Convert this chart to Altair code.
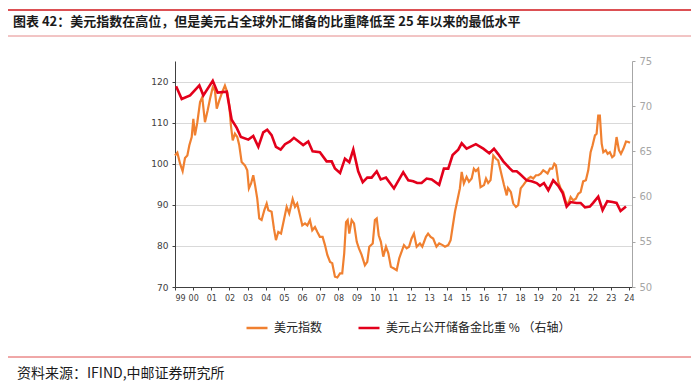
import altair as alt
import pandas as pd

# ---------------- data ----------------
dxy_t = [1999.00, 1999.13, 1999.28, 1999.42, 1999.55, 1999.68, 1999.79, 1999.92, 2000.01, 2000.10,
         2000.23, 2000.38, 2000.50, 2000.65, 2000.80, 2000.93, 2001.08, 2001.20, 2001.30, 2001.44,
         2001.60, 2001.75, 2001.88, 2001.99, 2002.08, 2002.18, 2002.30, 2002.43, 2002.54, 2002.67,
         2002.85, 2002.98, 2003.07, 2003.19, 2003.31, 2003.41, 2003.53, 2003.64, 2003.77, 2003.92,
         2004.05, 2004.14, 2004.32, 2004.45, 2004.56, 2004.69, 2004.84, 2004.96, 2005.15, 2005.29,
         2005.48, 2005.61, 2005.73, 2005.88, 2006.01, 2006.16, 2006.29, 2006.43, 2006.56, 2006.71,
         2006.84, 2006.98, 2007.13, 2007.26, 2007.39, 2007.54, 2007.66, 2007.81, 2007.94, 2008.09,
         2008.21, 2008.32, 2008.42, 2008.51, 2008.60, 2008.73, 2008.86, 2009.01, 2009.13, 2009.28,
         2009.46, 2009.59, 2009.70, 2009.89, 2010.01, 2010.11, 2010.22, 2010.34, 2010.47, 2010.62,
         2010.75, 2010.89, 2011.06, 2011.21, 2011.35, 2011.61, 2011.76, 2011.89, 2012.03, 2012.16,
         2012.31, 2012.49, 2012.62, 2012.82, 2012.94, 2013.08, 2013.22, 2013.40, 2013.55, 2013.74,
         2013.87, 2014.05, 2014.18, 2014.29, 2014.42, 2014.57, 2014.69, 2014.79, 2014.91, 2015.06,
         2015.19, 2015.34, 2015.46, 2015.57, 2015.70, 2015.83, 2016.02, 2016.13, 2016.25, 2016.38,
         2016.53, 2016.68, 2016.80, 2016.95, 2017.12, 2017.27, 2017.34, 2017.50, 2017.63, 2017.78,
         2017.90, 2018.04, 2018.18, 2018.33, 2018.45, 2018.59, 2018.73, 2018.88, 2019.01, 2019.14,
         2019.28, 2019.41, 2019.52, 2019.65, 2019.78, 2019.89, 2019.98, 2020.11, 2020.24, 2020.38,
         2020.53, 2020.66, 2020.79, 2020.93, 2021.08, 2021.21, 2021.34, 2021.48, 2021.63, 2021.76,
         2021.89, 2022.00, 2022.13, 2022.22, 2022.31, 2022.40, 2022.50, 2022.59, 2022.72, 2022.83,
         2022.95, 2023.08, 2023.19, 2023.32, 2023.45, 2023.56, 2023.70, 2023.84, 2023.97, 2024.06]
dxy_v = [102.0, 102.7, 100.0, 98.2, 101.4, 102.0, 104.5, 106.5, 110.9, 106.9,
         110.1, 115.0, 116.2, 110.1, 113.0, 115.8, 118.6, 117.8, 113.4, 115.4,
         117.4, 119.0, 117.4, 114.2, 109.3, 105.7, 107.3, 106.5, 104.5, 100.4,
         99.6, 98.4, 94.0, 95.2, 97.2, 94.8, 91.5, 86.7, 86.3, 88.7,
         90.3, 88.7, 88.3, 84.2, 81.4, 83.4, 83.0, 85.5, 89.5, 87.9,
         91.4, 89.5, 90.3, 87.5, 85.0, 85.5, 85.0, 86.3, 83.8, 84.6,
         83.4, 82.2, 82.2, 80.2, 77.8, 76.1, 75.8, 72.5, 72.3, 73.3,
         73.3, 78.2, 85.8, 86.3, 83.0, 86.3, 85.5, 81.0, 79.4, 77.8,
         75.3, 76.1, 79.8, 80.6, 86.3, 86.7, 82.6, 81.0, 77.4, 79.8,
         78.2, 74.9, 74.5, 74.1, 77.0, 80.2, 79.4, 79.8, 81.8, 83.0,
         79.8, 80.6, 79.8, 82.2, 83.0, 82.2, 81.8, 79.8, 80.6, 80.2,
         79.8, 80.2, 81.4, 84.6, 88.3, 91.5, 94.0, 98.0, 95.2, 96.8,
         95.6, 96.4, 98.8, 98.2, 98.8, 94.3, 94.8, 96.4, 95.3, 96.0,
         102.0, 101.2, 100.8, 98.0, 94.8, 92.3, 94.1, 93.1, 90.3, 89.5,
         89.9, 94.0, 94.8, 95.7, 96.4, 96.8, 96.4, 97.2, 97.2, 97.6,
         98.4, 98.0, 97.6, 98.8, 98.8, 100.0, 99.6, 95.6, 94.0, 93.1,
         90.7, 90.3, 91.9, 91.1, 91.5, 92.7, 93.1, 95.7, 96.0, 98.4,
         102.8, 104.5, 106.9, 107.3, 111.7, 111.7, 104.9, 102.8, 103.3, 102.4,
         102.8, 101.6, 102.0, 106.5, 103.3, 102.4, 103.7, 105.4, 105.3, 105.1]

usd_t = [1999.06, 1999.37, 1999.83, 2000.34, 2000.56, 2001.08, 2001.35, 2001.85, 2002.12, 2002.40,
         2002.63, 2003.04, 2003.31, 2003.59, 2003.86, 2004.08, 2004.32, 2004.56, 2004.82, 2005.06,
         2005.33, 2005.55, 2006.06, 2006.34, 2006.58, 2006.98, 2007.35, 2007.63, 2007.81, 2008.09,
         2008.36, 2008.60, 2008.82, 2009.09, 2009.34, 2009.59, 2009.83, 2010.11, 2010.33, 2010.62,
         2010.84, 2011.06, 2011.57, 2011.85, 2012.12, 2012.34, 2012.58, 2012.86, 2013.14, 2013.55,
         2013.81, 2014.05, 2014.29, 2014.60, 2014.79, 2015.06, 2015.57, 2015.98, 2016.31, 2016.57,
         2016.80, 2017.08, 2017.45, 2017.60, 2017.82, 2018.00, 2018.37, 2018.64, 2018.92, 2019.10,
         2019.32, 2019.56, 2019.83, 2020.11, 2020.35, 2020.57, 2020.79, 2021.12, 2021.34, 2021.58,
         2021.85, 2022.03, 2022.31, 2022.55, 2022.81, 2023.10, 2023.32, 2023.54, 2023.84]
usd_v = [72.2, 70.8, 71.2, 72.3, 71.2, 72.8, 71.5, 71.6, 68.5, 67.6,
         66.6, 66.3, 66.7, 65.5, 67.1, 67.4, 66.8, 65.5, 65.2, 65.8,
         66.1, 66.5, 65.7, 66.1, 65.0, 64.9, 63.9, 63.9, 63.1, 62.6,
         64.2, 63.8, 65.2, 62.8, 61.6, 62.1, 62.1, 62.8, 61.9, 62.1,
         61.5, 60.9, 62.7, 61.8, 61.7, 61.5, 61.5, 62.0, 61.9, 61.3,
         63.1, 63.1, 64.6, 65.2, 65.9, 65.3, 65.8, 65.3, 64.8, 65.3,
         64.7, 63.9, 63.1, 62.8, 62.8, 62.5, 61.8, 61.7, 61.5, 61.2,
         61.5, 60.7, 61.8, 61.2, 60.4, 58.9, 59.4, 59.3, 59.3, 58.8,
         58.9, 59.3, 60.0, 58.5, 59.5, 59.4, 59.3, 58.4, 58.9]

series_names = ["美元指数", "美元占公开储备金比重 %  （右轴）"]
series_colors = ["#F08030", "#E3001B"]
year_ticks = list(range(1999, 2025))
left_ticks = [70, 80, 90, 100, 110, 120]
right_ticks = [50, 55, 60, 65, 70, 75]

title_text = "图表 42：美元指数在高位，但是美元占全球外汇储备的比重降低至 25 年以来的最低水平"
source_text = "资料来源：IFIND,中邮证券研究所"

df_dxy = pd.DataFrame({"t": dxy_t, "v": dxy_v, "series": series_names[0]})
df_usd = pd.DataFrame({"t": usd_t, "v": usd_v, "series": series_names[1]})

# ---------------- chart ----------------
x_enc = alt.X("t:Q",
              scale=alt.Scale(domain=[1999, 2024.17], nice=False, zero=False),
              axis=alt.Axis(values=year_ticks, labelExpr="substring(toString(datum.value), 2)",
                            title=None, grid=False, domainColor="#404040", tickColor="#404040",
                            tickSize=3, labelFontSize=8, labelColor="#404040", labelPadding=4,
                            labelFont="DejaVu Sans"))

color_enc = alt.Color("series:N",
                      scale=alt.Scale(domain=series_names, range=series_colors),
                      legend=alt.Legend(title=None, orient="none", legendX=70, legendY=255,
                                        direction="horizontal", symbolType="stroke",
                                        symbolSize=441, symbolStrokeWidth=2.5,
                                        labelFontSize=12, labelFont="Noto Sans CJK SC",
                                        labelColor="#222222", labelLimit=400,
                                        columnPadding=30, labelOffset=5))

dxy_line = alt.Chart(df_dxy).mark_line(strokeWidth=2.2, interpolate="linear").encode(
    x=x_enc,
    y=alt.Y("v:Q", scale=alt.Scale(domain=[70, 125], nice=False, zero=False),
            axis=alt.Axis(values=left_ticks, title=None, grid=True, gridColor="#d9d9d9",
                          domainColor="#404040", tickColor="#404040", tickSize=3,
                          labelFontSize=9, labelColor="#404040", labelPadding=4,
                          labelFont="DejaVu Sans")),
    color=color_enc,
)

usd_line = alt.Chart(df_usd).mark_line(strokeWidth=2.6, interpolate="linear").encode(
    x=x_enc,
    y=alt.Y("v:Q", scale=alt.Scale(domain=[50, 75], nice=False, zero=False),
            axis=alt.Axis(values=right_ticks, orient="right", title=None, grid=False,
                          domainColor="#a6a6a6", tickColor="#a6a6a6", tickSize=3,
                          labelFontSize=10, labelColor="#a6a6a6", labelPadding=4,
                          labelFont="DejaVu Sans")),
    color=color_enc,
)

one = pd.DataFrame({"k": [0]})
title_mark = alt.Chart(pd.DataFrame({"txt": [title_text]})).mark_text(
    align="left", baseline="middle", fontSize=13, fontWeight="bold",
    font="Noto Sans CJK SC", color="#1a1a1a").encode(
    text="txt:N", x=alt.value(-162), y=alt.value(-39))
source_mark = alt.Chart(pd.DataFrame({"txt": [source_text]})).mark_text(
    align="left", baseline="middle", fontSize=14,
    font="Noto Sans CJK SC", color="#1a1a1a").encode(
    text="txt:N", x=alt.value(-158), y=alt.value(313))
top_rule = alt.Chart(one).mark_rule(color="#d0161b", strokeWidth=1.5).encode(
    x=alt.value(-167), x2=alt.value(516), y=alt.value(-51))
sub_rule = alt.Chart(one).mark_rule(color="#e58a8a", strokeWidth=1).encode(
    x=alt.value(-167), x2=alt.value(516), y=alt.value(-25))
bottom_rule = alt.Chart(one).mark_rule(color="#e05050", strokeWidth=1).encode(
    x=alt.value(-167), x2=alt.value(516), y=alt.value(296))

chart = alt.layer(dxy_line, usd_line, title_mark, source_mark, top_rule, sub_rule, bottom_rule).resolve_scale(
    y="independent"
).properties(
    width=457, height=226,
    autosize=alt.AutoSizeParams(type="none"),
    padding={"left": 167, "top": 53, "right": 59, "bottom": 95},
    background="white",
).configure_view(stroke=None)

chart.save("out.html", embed_options={"renderer": "svg", "actions": False})
